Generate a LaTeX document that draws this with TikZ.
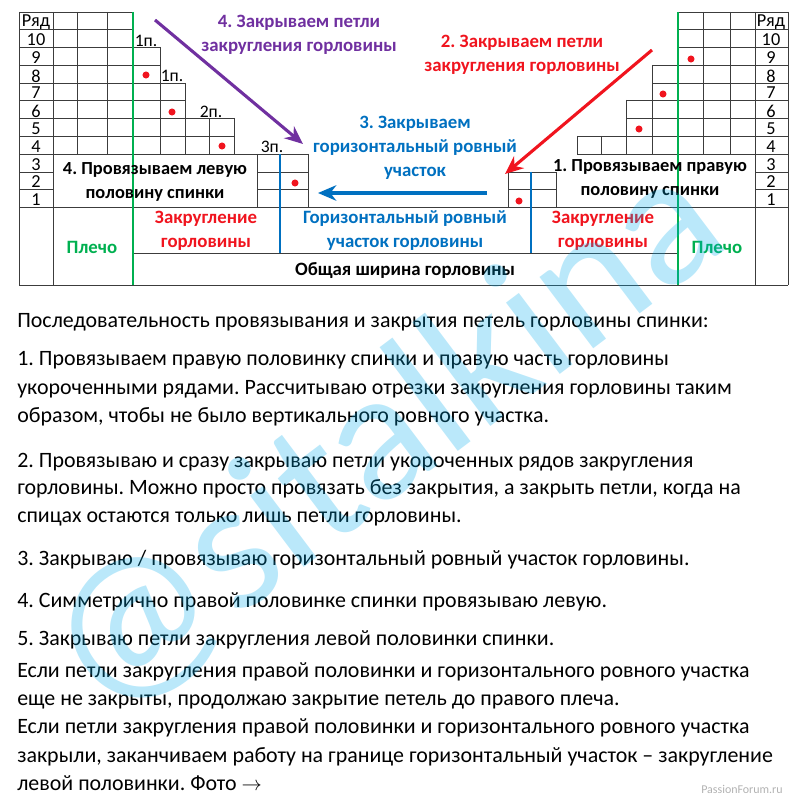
\documentclass[tikz,border=0pt]{standalone}
\usepackage{fontspec}
\setmainfont{Carlito}
\usetikzlibrary{arrows.meta}
\definecolor{plgreen}{RGB}{0,176,80}
\definecolor{plblue}{RGB}{0,112,192}
\definecolor{plred}{RGB}{240,20,30}
\definecolor{plpurple}{RGB}{112,48,160}
\definecolor{gridgray}{RGB}{60,60,60}
\definecolor{wmark}{RGB}{0,170,235}
\frenchspacing

\begin{document}
\begin{tikzpicture}[x=0.025cm, y=-0.025cm,
	g/.style	= {draw=gridgray, line width=0.7pt},
	gg/.style	= {draw=plgreen, line width=1.5pt},
	bb/.style	= {draw=plblue, line width=1.5pt},
	rn/.style	= {inner sep=0pt, font=\fontsize{13}{13}\selectfont},
	pn/.style	= {inner sep=0pt, font=\fontsize{12.5}{13}\selectfont},
	lbl/.style	= {inner sep=0pt, align=center, font=\bfseries\fontsize{13.4}{17}\selectfont},
	box/.style	= {inner sep=0pt, align=center, font=\bfseries\fontsize{13.1}{16.5}\selectfont},
	body/.style	= {inner sep=0pt, anchor=base west, font=\fontsize{15.6}{15.6}\selectfont},
	dot/.style	= {circle, fill=plred, inner sep=0pt, minimum size=5pt},
	arr/.style	= {-{Stealth[length=13pt, width=11pt]}, line width=2.2pt}
	]
	\useasboundingbox (0,0) rectangle (800,800);
	
	% === === Grid, left half === ===
	\draw[g]	(19,12) -- (133,12);
	\draw[g]	(19,29) -- (133,29);
	\draw[g]	(19,47) -- (160,47);
	\draw[g]	(19,65) -- (160,65);
	\draw[g]	(19,83) -- (185,83);
	\draw[g]	(19,100) -- (185,100);
	\draw[g]	(19,118) -- (234,118);
	\draw[g]	(19,136) -- (234,136);
	\draw[g]	(19,154) -- (308,154);
	\draw[g]	(19,172) -- (53,172)	(257,172) -- (308,172);
	\draw[g]	(19,189) -- (53,189)	(257,189) -- (308,189);
	
	\draw[g]	(19,12) -- (19,285);
	\draw[g]	(53,12) -- (53,285);
	\draw[g]	(77,12) -- (77,154);
	\draw[g]	(107,12) -- (107,154);
	\draw[g]	(160,47) -- (160,154);
	\draw[g]	(185,83) -- (185,154);
	\draw[g]	(209,118) -- (209,154);
	\draw[g]	(234,118) -- (234,154);
	\draw[g]	(257,154) -- (257,207);
	\draw[g]	(308,154) -- (308,207);
	
	% === === Grid, right half === ===
	\draw[g]	(678,12) -- (788,12);
	\draw[g]	(678,29) -- (788,29);
	\draw[g]	(678,47) -- (788,47);
	\draw[g]	(652,65) -- (788,65);
	\draw[g]	(652,83) -- (788,83);
	\draw[g]	(626,100) -- (788,100);
	\draw[g]	(626,118) -- (788,118);
	\draw[g]	(577,136) -- (788,136);
	\draw[g]	(577,154) -- (788,154);
	\draw[g]	(508,172) -- (556,172)	(755,172) -- (788,172);
	\draw[g]	(508,189) -- (556,189)	(755,189) -- (788,189);
	
	\draw[g]	(788,12) -- (788,285);
	\draw[g]	(755,12) -- (755,285);
	\draw[g]	(730,12) -- (730,154);
	\draw[g]	(703,12) -- (703,154);
	\draw[g]	(652,65) -- (652,154);
	\draw[g]	(626,100) -- (626,154);
	\draw[g]	(601,136) -- (601,154);
	\draw[g]	(577,136) -- (577,154);
	\draw[g]	(556,172) -- (556,207);
	\draw[g]	(508,172) -- (508,207);
	
	% === === Grid, bottom === ===
	\draw[g]	(19,207) -- (788,207);
	\draw[g]	(133,253) -- (678,253);
	\draw[g]	(19,285) -- (788,285);
	
	\draw[gg]	(133,12) -- (133,285);
	\draw[gg]	(678,12) -- (678,285);
	\draw[bb]	(280,154) -- (280,253);
	\draw[bb]	(531,172) -- (531,253);
	
	% === === Row numbers === ===
	\node[rn]	(lhd)	at	(36, 22)	{Ряд};
	\node[rn]	(l10)	at	(36, 40)	{10};
	\node[rn]	(l9)	at	(36, 58)	{9};
	\node[rn]	(l8)	at	(36, 76)	{8};
	\node[rn]	(l7)	at	(36, 93)	{7};
	\node[rn]	(l6)	at	(36, 111)	{6};
	\node[rn]	(l5)	at	(36, 129)	{5};
	\node[rn]	(l4)	at	(36, 147)	{4};
	\node[rn]	(l3)	at	(36, 165)	{3};
	\node[rn]	(l2)	at	(36, 182)	{2};
	\node[rn]	(l1)	at	(36, 200)	{1};
	
	\node[rn]	(rhd)	at	(771, 22)	{Ряд};
	\node[rn]	(r10)	at	(771, 40)	{10};
	\node[rn]	(r9)	at	(771, 58)	{9};
	\node[rn]	(r8)	at	(771, 76)	{8};
	\node[rn]	(r7)	at	(771, 93)	{7};
	\node[rn]	(r6)	at	(771, 111)	{6};
	\node[rn]	(r5)	at	(771, 129)	{5};
	\node[rn]	(r4)	at	(771, 147)	{4};
	\node[rn]	(r3)	at	(771, 165)	{3};
	\node[rn]	(r2)	at	(771, 182)	{2};
	\node[rn]	(r1)	at	(771, 200)	{1};
	
	% === === Loops and dots === ===
	\node[pn]	(p1)	at	(146, 41)	{1п.};
	\node[pn]	(p2)	at	(172, 76)	{1п.};
	\node[pn]	(p3)	at	(211, 112)	{2п.};
	\node[pn]	(p4)	at	(272, 147)	{3п.};
	
	\node[dot]	(dl1)	at	(146, 75)	{};
	\node[dot]	(dl2)	at	(172, 112)	{};
	\node[dot]	(dl3)	at	(222, 146)	{};
	\node[dot]	(dl4)	at	(295, 183)	{};
	\node[dot]	(dr1)	at	(691, 59)	{};
	\node[dot]	(dr2)	at	(663, 94)	{};
	\node[dot]	(dr3)	at	(639, 129)	{};
	\node[dot]	(dr4)	at	(519, 201)	{};
	
	% === === Labels === ===
	\node[box]	(left)	at	(155, 182)	{4. Провязываем левую\\половину спинки};
	\node[box]	(right)	at	(650, 179)	{1. Провязываем правую\\половину спинки};
	
	\node[lbl, plpurple]	(step4)	at	(299, 35)	{4. Закрываем петли\\закругления горловины};
	\node[lbl, plred]	(step2)	at	(522, 55)	{2. Закрываем петли\\закругления горловины};
	\node[lbl, plblue]	(step3)	at	(415, 148)	{3. Закрываем\\горизонтальный ровный\\участок};
	
	\node[lbl, plgreen]	(shl)	at	(92, 247)	{Плечо};
	\node[lbl, plgreen]	(shr)	at	(717, 247)	{Плечо};
	\node[lbl, plred]	(rndl)	at	(206, 231)	{Закругление\\горловины};
	\node[lbl, plred]	(rndr)	at	(603, 231)	{Закругление\\горловины};
	\node[lbl, plblue]	(flat)	at	(405, 231)	{Горизонтальный ровный\\участок горловины};
	\node[lbl]		(total)	at	(405, 271)	{Общая ширина горловины};
	
	% === === Arrows === ===
	\coordinate	(a4s)	at	(155, 20);
	\coordinate	(a4e)	at	(303, 144);
	\coordinate	(a2s)	at	(652, 50);
	\coordinate	(a2e)	at	(505, 174);
	\coordinate	(a3s)	at	(487, 193);
	\coordinate	(a3e)	at	(318, 193);
	
	\draw[arr, plpurple]	(a4s) -- (a4e);
	\draw[arr, plred]		(a2s) -- (a2e);
	\draw[arr, plblue]		(a3s) -- (a3e);
	
	% === === Text === ===
	\node[body]	(t0)	at	(17, 327)	{Последовательность провязывания и закрытия петель горловины спинки:};
	\node[body]	(t1)	at	(17, 365)	{1. Провязываем правую половинку спинки и правую часть горловины};
	\node[body]	(t2)	at	(17, 394)	{укороченными рядами. Рассчитываю отрезки закругления горловины таким};
	\node[body]	(t3)	at	(17, 422)	{образом, чтобы не было вертикального ровного участка.};
	\node[body]	(t4)	at	(17, 467)	{2. Провязываю и сразу закрываю петли укороченных рядов закругления};
	\node[body]	(t5)	at	(17, 494)	{горловины. Можно просто провязать без закрытия, а закрыть петли, когда на};
	\node[body]	(t6)	at	(17, 522)	{спицах остаются только лишь петли горловины.};
	\node[body]	(t7)	at	(17, 565)	{3. Закрываю / провязываю горизонтальный ровный участок горловины.};
	\node[body]	(t8)	at	(17, 607)	{4. Симметрично правой половинке спинки провязываю левую.};
	\node[body]	(t9)	at	(17, 645)	{5. Закрываю петли закругления левой половинки спинки.};
	\node[body]	(t10)	at	(17, 677)	{Если петли закругления правой половинки и горизонтального ровного участка};
	\node[body]	(t11)	at	(17, 705)	{еще не закрыты, продолжаю закрытие петель до правого плеча.};
	\node[body]	(t12)	at	(17, 733)	{Если петли закругления правой половинки и горизонтального ровного участка};
	\node[body]	(t13)	at	(17, 762)	{закрыли, заканчиваем работу на границе горизонтальный участок – закругление};
	\node[body]	(t14)	at	(17, 790)	{левой половинки. Фото $\rightarrow$};
	
	% === === Watermarks === ===
	\node[wmark, opacity=0.27, rotate=37, inner sep=0pt, font=\fontsize{133}{133}\selectfont]	(wm)	at	(385, 438)	{@sitalkina};
	\node[gray!60, inner sep=0pt, font=\fontsize{8.5}{8.5}\selectfont]	(site)	at	(742, 789)	{PassionForum.ru};
\end{tikzpicture}
\end{document}
